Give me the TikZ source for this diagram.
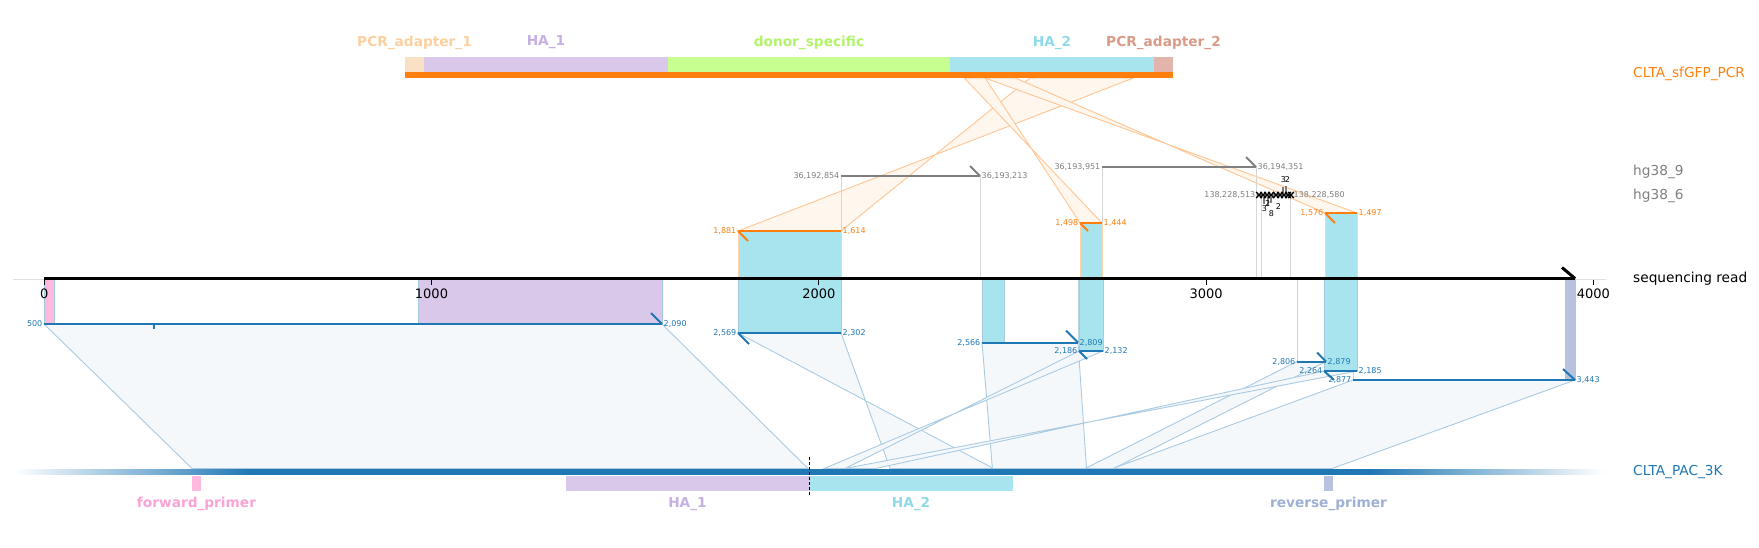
\documentclass[tikz,border=0pt]{standalone}
\usepackage{fontspec}
\setmainfont{DejaVu Sans}
\usepackage{xcolor}
\usetikzlibrary{positioning}

\definecolor{pcrorange}{HTML}{FF7F0E}
\definecolor{pacblue}{HTML}{1F77B4}
\definecolor{hggray}{HTML}{7F7F7F}
\definecolor{adapterA}{HTML}{FBD0A0}
\definecolor{adapterAbar}{HTML}{FAE0C5}
\definecolor{hapurple}{HTML}{C5B0E3}
\definecolor{hapurplebar}{HTML}{D9C8EA}
\definecolor{donorgreen}{HTML}{B3F36B}
\definecolor{donorgreenbar}{HTML}{C7FF90}
\definecolor{hacyan}{HTML}{8FDAE9}
\definecolor{hacyanbar}{HTML}{A8E4EE}
\definecolor{adapterB}{HTML}{D99A88}
\definecolor{adapterBbar}{HTML}{E3B5AA}
\definecolor{fwdpink}{HTML}{FBA3D4}
\definecolor{fwdpinkbar}{HTML}{FFB8DE}
\definecolor{revslate}{HTML}{9FB0D6}
\definecolor{revslatebar}{HTML}{B8C2DF}

\begin{document}
\begin{tikzpicture}[
  x=1pt, y=-1pt,
  font=\fontsize{13.7}{16}\selectfont,
  reflabel/.style={anchor=west, inner sep=0pt},
  featlabel/.style={font=\fontsize{13.7}{16}\selectfont\bfseries, inner sep=0pt},
  poslabel/.style={font=\fontsize{8}{9}\selectfont, inner sep=1.5pt},
  ticklabel/.style={font=\fontsize{13}{15}\selectfont, inner sep=0pt},
  aln/.style={line width=2pt},
  orangefan/.style={draw=pcrorange!45, fill=pcrorange!7, line width=0.9pt},
  bluefan/.style={draw=pacblue!38, fill=pacblue!5, line width=0.9pt},
  graytie/.style={draw=black!16, line width=0.9pt},
  bluetie/.style={draw=pacblue!30, line width=0.9pt},
  upperbox/.style={draw=pcrorange!35, line width=0.7pt},
  lowerbox/.style={draw=pacblue!40, line width=0.7pt}
]
\useasboundingbox (0,0) rectangle (1759,548);

% alignment end points
\coordinate (o1a) at (738,231);   \coordinate (o1b) at (841,231);
\coordinate (o2a) at (1080,223);  \coordinate (o2b) at (1102,223);
\coordinate (o3a) at (1325,213);  \coordinate (o3b) at (1357,213);
\coordinate (g1a) at (841,176);   \coordinate (g1b) at (980,176);
\coordinate (g2a) at (1102,167);  \coordinate (g2b) at (1256,167);
\coordinate (g3a) at (1257,195);  \coordinate (g3b) at (1292,195);
\coordinate (b1a) at (44,324);    \coordinate (b1b) at (662,324);
\coordinate (b2a) at (738,333);   \coordinate (b2b) at (841,333);
\coordinate (b3a) at (982,342.5); \coordinate (b3b) at (1078,342.5);
\coordinate (b4a) at (1079,351);  \coordinate (b4b) at (1103,351);
\coordinate (b5a) at (1297,361.5);\coordinate (b5b) at (1326,361.5);
\coordinate (b6a) at (1324,371);  \coordinate (b6b) at (1357,371);
\coordinate (b7a) at (1353,380);  \coordinate (b7b) at (1575,380);

% positions on the donor and on the plasmid
\coordinate (o1at) at (1133.5,78); \coordinate (o1bt) at (1030.1,78);
\coordinate (o2at) at (985.2,78);  \coordinate (o2bt) at (964.3,78);
\coordinate (o3at) at (1015.4,78); \coordinate (o3bt) at (984.8,78);
\coordinate (b1at) at (192.0,468.5);  \coordinate (b1bt) at (808.0,468.5);
\coordinate (b2at) at (993.5,468.5);  \coordinate (b2bt) at (890.1,468.5);
\coordinate (b3at) at (992.4,468.5);  \coordinate (b3bt) at (1086.5,468.5);
\coordinate (b4at) at (845.2,468.5);  \coordinate (b4bt) at (824.2,468.5);
\coordinate (b5at) at (1085.3,468.5); \coordinate (b5bt) at (1113.6,468.5);
\coordinate (b6at) at (875.4,468.5);  \coordinate (b6bt) at (844.8,468.5);
\coordinate (b7at) at (1112.8,468.5); \coordinate (b7bt) at (1332.1,468.5);

% read axis end points
\coordinate (rd0) at (44,278.5);
\coordinate (rd1) at (1575,278.5);

% faint baseline
\draw[black!12, line width=1pt] (13,279) -- (1606,279);

% fans to the donor
\filldraw[orangefan] (o1a) -- (o1b) -- (o1bt) -- (o1at) -- cycle;
\filldraw[orangefan] (o2a) -- (o2b) -- (o2bt) -- (o2at) -- cycle;
\filldraw[orangefan] (o3a) -- (o3b) -- (o3bt) -- (o3at) -- cycle;

% fans to the plasmid
\filldraw[bluefan] (b1a) -- (b1b) -- (b1bt) -- (b1at) -- cycle;
\filldraw[bluefan] (b2a) -- (b2b) -- (b2bt) -- (b2at) -- cycle;
\filldraw[bluefan] (b3a) -- (b3b) -- (b3bt) -- (b3at) -- cycle;
\filldraw[bluefan] (b4a) -- (b4b) -- (b4bt) -- (b4at) -- cycle;
\filldraw[bluefan] (b5a) -- (b5b) -- (b5bt) -- (b5at) -- cycle;
\filldraw[bluefan] (b6a) -- (b6b) -- (b6bt) -- (b6at) -- cycle;
\filldraw[bluefan] (b7a) -- (b7b) -- (b7bt) -- (b7at) -- cycle;

% ties down to the read
\draw[graytie] (g1a) -- (g1a |- rd0);
\draw[graytie] (g1b) -- (g1b |- rd0);
\draw[graytie] (g2a) -- (g2a |- rd0);
\draw[graytie] (g2b) -- (g2b |- rd0);
\draw[graytie] (1261,195) -- (1261,278.5);
\draw[graytie] (1290,195) -- (1290,278.5);
\draw[bluetie] (b3b) -- (b3b |- rd0);
\draw[bluetie] (b5a) -- (b5a |- rd0);
\draw[bluetie] (b5b) -- (b5b |- rd0);
\draw[bluetie] (b7a) -- (b7a |- rd0);

% feature boxes above the read
\filldraw[fill=hacyanbar, upperbox] (o1a) rectangle (o1b |- rd0);
\filldraw[fill=hacyanbar, upperbox] (o2a) rectangle (o2b |- rd0);
\filldraw[fill=hacyanbar, upperbox] (o3a) rectangle (o3b |- rd0);

% feature boxes below the read
\filldraw[fill=fwdpinkbar, lowerbox] (b1a |- rd0) rectangle (54,324);
\filldraw[fill=hapurplebar, lowerbox] (418,278.5) rectangle (b1b);
\filldraw[fill=hacyanbar, lowerbox] (b2a |- rd0) rectangle (b2b);
\filldraw[fill=hacyanbar, lowerbox] (b3a |- rd0) rectangle (1004,342.5);
\filldraw[fill=hacyanbar, lowerbox] (b4a |- rd0) rectangle (b4b);
\filldraw[fill=hacyanbar, lowerbox] (b6a |- rd0) rectangle (b6b);
\filldraw[fill=revslatebar, lowerbox] (1565,278.5) rectangle (b7b);

% donor alignments
\draw[aln, pcrorange] (o1a) -- (o1b);
\draw[aln, pcrorange] (o1a) -- ++(10,10);
\draw[aln, pcrorange] (o2a) -- (o2b);
\draw[aln, pcrorange] (o2a) -- ++(8,8);
\draw[aln, pcrorange] (o3a) -- (o3b);
\draw[aln, pcrorange] (o3a) -- ++(10,10);

% genome alignments
\draw[aln, hggray] (g1a) -- (g1b);
\draw[aln, hggray] (g1b) -- ++(-10,-10);
\draw[aln, hggray] (g2a) -- (g2b);
\draw[aln, hggray] (g2b) -- ++(-10,-10);
\draw[aln, hggray] (g3a) -- (g3b);
\draw[hggray, line width=2.5pt] (1283,187) -- (1283,193) (1286,186) -- (1286,193)
  (1264,197) -- (1264,204) (1268,197) -- (1268,206) (1271,197) -- (1271,203);
\foreach \cx in {1259,1263,1267,1271,1276,1280,1284,1288,1291}
  \draw[black, line width=1.3pt] (\cx-2.8,192) -- (\cx+2.8,198) (\cx-2.8,198) -- (\cx+2.8,192);

% plasmid alignments
\draw[aln, pacblue] (b1a) -- (b1b);
\draw[aln, pacblue] (b1b) -- ++(-11,-11);
\draw[pacblue, line width=1.5pt] (154,324) -- (154,329);
\draw[aln, pacblue] (b2a) -- (b2b);
\draw[aln, pacblue] (b2a) -- ++(11,11);
\draw[aln, pacblue] (b3a) -- (b3b);
\draw[aln, pacblue] (b3b) -- ++(-12,-12);
\draw[aln, pacblue] (b4a) -- (b4b);
\draw[aln, pacblue] (b4a) -- ++(8,8);
\draw[aln, pacblue] (b5a) -- (b5b);
\draw[aln, pacblue] (b5b) -- ++(-9,-9);
\draw[aln, pacblue] (b6a) -- (b6b);
\draw[aln, pacblue] (b6a) -- ++(10,9);
\draw[aln, pacblue] (b7a) -- (b7b);
\draw[aln, pacblue] (b7b) -- ++(-12,-11);

% read axis
\draw[black, line width=3.3pt] (rd0) -- (rd1);
\draw[black, line width=3pt] (rd1) -- ++(-13,-11);
\draw[black, line width=0.9pt] (44.2,280) -- ++(0,5) (431.5,280) -- ++(0,5)
  (818.8,280) -- ++(0,5) (1206.1,280) -- ++(0,5) (1593.4,280) -- ++(0,5);
\node[ticklabel] (t0) at (44.2,294) {0};
\node[ticklabel] (t1) at (431.5,294) {1000};
\node[ticklabel] (t2) at (818.8,294) {2000};
\node[ticklabel] (t3) at (1206.1,294) {3000};
\node[ticklabel] (t4) at (1593.4,294) {4000};

% donor bar
\fill[adapterAbar] (405,57) rectangle (424,72);
\fill[hapurplebar] (424,57) rectangle (668,72);
\fill[donorgreenbar] (668,57) rectangle (950,72);
\fill[hacyanbar] (950,57) rectangle (1154,72);
\fill[adapterBbar] (1154,57) rectangle (1173,72);
\fill[pcrorange] (405,72) rectangle (1173,78);
\node[featlabel, text=adapterA] (fa1) at (414.5,42.6) {PCR\_adapter\_1};
\node[featlabel, text=hapurple] (fh1) at (546,42.6) {HA\_1};
\node[featlabel, text=donorgreen] (fds) at (809,42.6) {donor\_specific};
\node[featlabel, text=hacyan] (fh2) at (1052,42.6) {HA\_2};
\node[featlabel, text=adapterB] (fa2) at (1163.5,42.6) {PCR\_adapter\_2};

% plasmid bar, faded at both ends
\fill[pacblue] (249,468.5) rectangle (1369,475);
\foreach \i in {0,...,58} {
  \pgfmathsetmacro{\pct}{100*(\i+0.5)/59}
  \fill[pacblue!\pct] (15+4*\i,468.5) rectangle (19.3+4*\i,475);
  \fill[pacblue!\pct] (1605-4*\i,468.5) rectangle (1600.7-4*\i,475);
}
\fill[fwdpinkbar] (192,475.5) rectangle (201,491);
\fill[hapurplebar] (566,475.5) rectangle (809,491);
\fill[hacyanbar] (809,475.5) rectangle (1013,491);
\fill[revslatebar] (1324,475.5) rectangle (1333,491);
\draw[black, line width=0.9pt, dash pattern=on 3pt off 2pt] (809,457) -- (809,496);
\node[featlabel, text=fwdpink] (pfw) at (196.5,504) {forward\_primer};
\node[featlabel, text=hapurple] (ph1) at (687.5,504) {HA\_1};
\node[featlabel, text=hacyan] (ph2) at (911,504) {HA\_2};
\node[featlabel, text=revslate] (prv) at (1328.5,504) {reverse\_primer};

% position labels
\node[poslabel, text=pcrorange, anchor=east] (o1l) at (o1a) {1,881};
\node[poslabel, text=pcrorange, anchor=west] (o1r) at (o1b) {1,614};
\node[poslabel, text=pcrorange, anchor=east] (o2l) at (o2a) {1,498};
\node[poslabel, text=pcrorange, anchor=west] (o2r) at (o2b) {1,444};
\node[poslabel, text=pcrorange, anchor=east] (o3l) at (o3a) {1,576};
\node[poslabel, text=pcrorange, anchor=west] (o3r) at (o3b) {1,497};
\node[poslabel, text=hggray, anchor=east] (g1l) at (g1a) {36,192,854};
\node[poslabel, text=hggray, anchor=west] (g1r) at (g1b) {36,193,213};
\node[poslabel, text=hggray, anchor=east] (g2l) at (g2a) {36,193,951};
\node[poslabel, text=hggray, anchor=west] (g2r) at (g2b) {36,194,351};
\node[poslabel, text=hggray, anchor=east] (g3l) at (g3a) {138,228,513};
\node[poslabel, text=hggray, anchor=west] (g3r) at (g3b) {138,228,580};
\node[poslabel, inner sep=0pt] (m1) at (1283.3,180) {3};
\node[poslabel, inner sep=0pt] (m2) at (1287.5,180) {2};
\node[poslabel, inner sep=0pt] (m3) at (1264.3,208.3) {3};
\node[poslabel, inner sep=0pt] (m4) at (1267.7,204) {2};
\node[poslabel, inner sep=0pt] (m5) at (1271.3,213.3) {8};
\node[poslabel, inner sep=0pt] (m6) at (1278.3,206.7) {2};
\node[poslabel, text=pacblue, anchor=east] (b1l) at (b1a) {500};
\node[poslabel, text=pacblue, anchor=west] (b1r) at (b1b) {2,090};
\node[poslabel, text=pacblue, anchor=east] (b2l) at (b2a) {2,569};
\node[poslabel, text=pacblue, anchor=west] (b2r) at (b2b) {2,302};
\node[poslabel, text=pacblue, anchor=east] (b3l) at (b3a) {2,566};
\node[poslabel, text=pacblue, anchor=west] (b3r) at (b3b) {2,809};
\node[poslabel, text=pacblue, anchor=east] (b4l) at (b4a) {2,186};
\node[poslabel, text=pacblue, anchor=west] (b4r) at (b4b) {2,132};
\node[poslabel, text=pacblue, anchor=east] (b5l) at (b5a) {2,806};
\node[poslabel, text=pacblue, anchor=west] (b5r) at (b5b) {2,879};
\node[poslabel, text=pacblue, anchor=east] (b6l) at (b6a) {2,264};
\node[poslabel, text=pacblue, anchor=west] (b6r) at (b6b) {2,185};
\node[poslabel, text=pacblue, anchor=east] (b7l) at (b7a) {2,877};
\node[poslabel, text=pacblue, anchor=west] (b7r) at (b7b) {3,443};

% reference names
\node[reflabel, text=pcrorange] (nmpcr) at (1633,74.3) {CLTA\_sfGFP\_PCR};
\node[reflabel, text=hggray] (nmhg9) at (1633,171.7) {hg38\_9};
\node[reflabel, text=hggray] (nmhg6) at (1633,195.7) {hg38\_6};
\node[reflabel, text=black] (nmread) at (1633,278.3) {sequencing read};
\node[reflabel, text=pacblue] (nmpac) at (1633,472) {CLTA\_PAC\_3K};
\end{tikzpicture}
\end{document}
